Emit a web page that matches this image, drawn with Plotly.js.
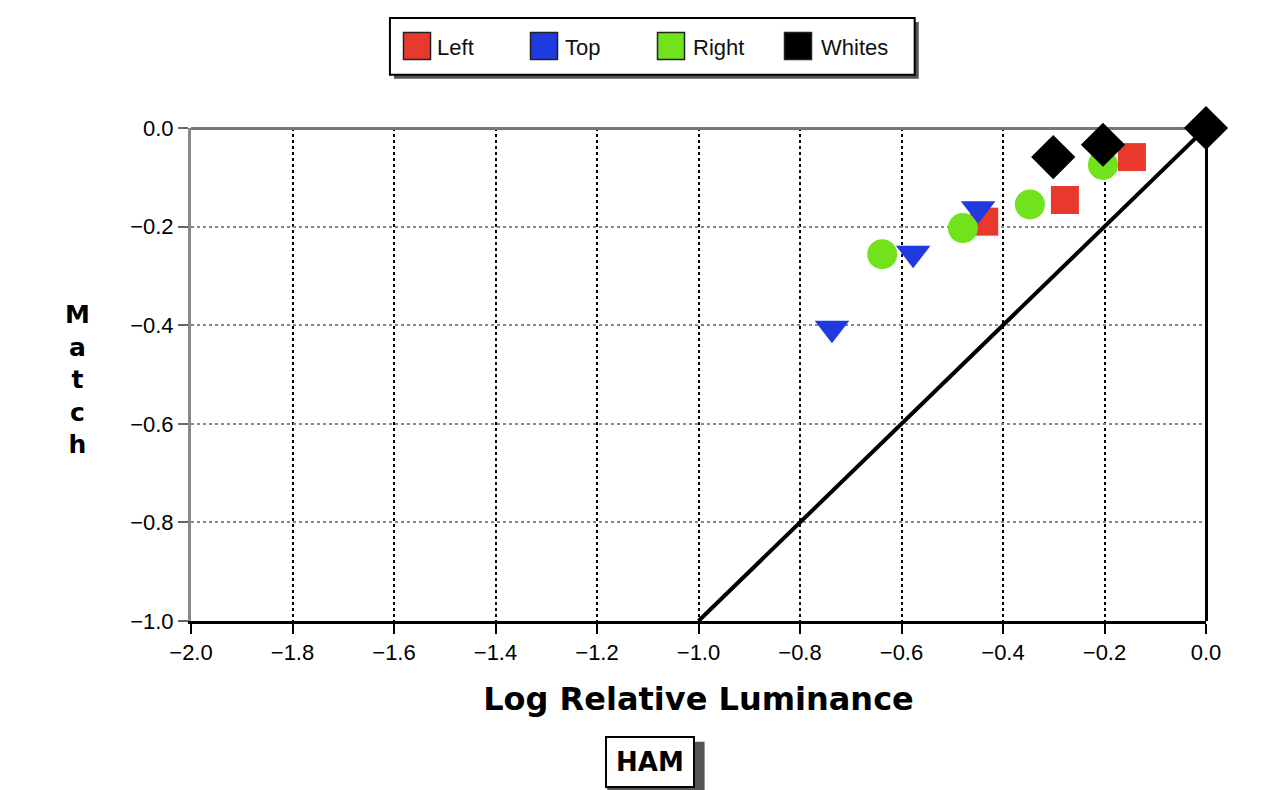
<!DOCTYPE html>
<html>
<head>
<meta charset="utf-8">
<script src="https://cdn.plot.ly/plotly-3.0.1.min.js"></script>
<style>html,body{margin:0;padding:0;background:#fff;}#chart{width:1287px;height:790px;}</style>
</head>
<body>
<div id="chart"></div>
<script>
// Data
const leftX = [-0.146, -0.278, -0.437];
const leftY = [-0.059, -0.146, -0.190];
const topX = [-0.449, -0.577, -0.737];
const topY = [-0.164, -0.254, -0.406];
const rightX = [-0.203, -0.347, -0.479, -0.638];
const rightY = [-0.075, -0.155, -0.203, -0.256];
const whitesX = [-0.301, -0.203, 0.0];
const whitesY = [-0.059, -0.034, 0.0];
const lineX = [-1.0, 0.0];
const lineY = [-1.0, 0.0];
const seriesNames = ['Left', 'Top', 'Right', 'Whites'];
const seriesColors = ['#e8392c', '#1f3be0', '#72e21c', '#000000'];
const xTicks = [-2.0, -1.8, -1.6, -1.4, -1.2, -1.0, -0.8, -0.6, -0.4, -0.2, 0.0];
const yTicks = [0.0, -0.2, -0.4, -0.6, -0.8, -1.0];

const F = 'Liberation Sans, Arial, sans-serif';
const FB = 'DejaVu Sans, Verdana, sans-serif';

const traces = [
  {x: lineX, y: lineY, mode: 'lines', line: {color: '#000', width: 4}, showlegend: false, hoverinfo: 'skip', cliponaxis: false},
  {x: leftX, y: leftY, mode: 'markers', marker: {symbol: 'square', size: 28, color: seriesColors[0]}, showlegend: false, cliponaxis: false},
  {x: rightX, y: rightY, mode: 'markers', marker: {symbol: 'circle', size: 30, color: seriesColors[2]}, showlegend: false, cliponaxis: false},
  {x: topX, y: topY, mode: 'markers', marker: {symbol: 'triangle-down', size: 30, color: seriesColors[1]}, showlegend: false, cliponaxis: false},
  {x: whitesX, y: whitesY, mode: 'markers', marker: {symbol: 'diamond', size: 34, color: seriesColors[3]}, showlegend: false, cliponaxis: false}
];
// legend-only entries (square swatches)
seriesNames.forEach((n, i) => {
  traces.push({x: [null], y: [null], mode: 'markers', name: n,
    marker: {symbol: 'square', size: 24, color: seriesColors[i]}, showlegend: true});
});

// enlarged legend swatches drawn behind the legend's own symbols
const swatchShapes = seriesColors.map((c, i) => {
  const cx = 417 + i * 127, cy = 46, h = 13.5;
  return {type: 'rect', xref: 'paper', yref: 'paper',
    x0: (cx - h - 191) / 1015, x1: (cx + h - 191) / 1015,
    y0: (621 - (cy + h)) / 493, y1: (621 - (cy - h)) / 493,
    fillcolor: c, line: {color: '#222', width: 1.5}, layer: 'above'};
});

const layout = {
  width: 1287, height: 790,
  paper_bgcolor: '#fff', plot_bgcolor: '#fff',
  margin: {l: 191, r: 81, t: 128, b: 169},
  font: {family: F, size: 20, color: '#000'},
  showlegend: true,
  legend: {orientation: 'h', x: 0.203, xanchor: 'left', y: 1.166, yanchor: 'middle',
    bgcolor: 'rgba(0,0,0,0)', borderwidth: 0,
    font: {family: F, size: 22, color: '#111'}, itemwidth: 30,
    entrywidth: 83, entrywidthmode: 'pixels'},
  xaxis: {
    range: [-2, 0], tickvals: xTicks, tickformat: '.1f',
    showgrid: true, gridcolor: '#000', griddash: 'dot', gridwidth: 2,
    zeroline: true, zerolinecolor: '#000', zerolinewidth: 3,
    showline: true, linecolor: '#000', linewidth: 3,
    ticks: 'outside', ticklen: 10, tickwidth: 2, tickcolor: '#000',
    tickfont: {family: F, size: 22, color: '#000'},
    title: {text: '<b>Log Relative Luminance</b>', font: {family: FB, size: 32, color: '#000'}, standoff: 24},
    fixedrange: true
  },
  yaxis: {
    range: [-1, 0], tickvals: yTicks, tickformat: '.1f',
    showgrid: true, gridcolor: '#888', griddash: 'dot', gridwidth: 2,
    zeroline: true, zerolinecolor: '#777', zerolinewidth: 3,
    showline: true, linecolor: '#888', linewidth: 3,
    ticks: 'outside', ticklen: 10, tickwidth: 2, tickcolor: '#666',
    tickfont: {family: F, size: 22, color: '#000'},
    fixedrange: true
  },
  annotations: [
    {text: '<b>M<br>a<br>t<br>c<br>h</b>', xref: 'paper', yref: 'paper', x: -0.112, y: 0.49, xanchor: 'center', yanchor: 'middle',
      showarrow: false, font: {family: FB, size: 25, color: '#000'}},
    {text: '<b>HAM</b>', xref: 'paper', yref: 'paper', x: 0.452, y: -0.285, xanchor: 'center', yanchor: 'middle',
      showarrow: false, font: {family: FB, size: 26, color: '#000'}, bordercolor: '#000', borderwidth: 2, borderpad: 9, bgcolor: '#fff'}
  ],
  shapes: [
    // legend box shadow and frame
    {type: 'rect', xref: 'paper', yref: 'paper', x0: 0.2, x1: 0.717, y0: 1.100, y1: 1.215, fillcolor: '#555', line: {width: 0}, layer: 'above'},
    {type: 'rect', xref: 'paper', yref: 'paper', x0: 0.196, x1: 0.713, y0: 1.108, y1: 1.223, fillcolor: '#fff', line: {color: '#000', width: 2}, layer: 'above'},
    ...swatchShapes,
    // HAM box shadow
    {type: 'rect', xref: 'paper', yref: 'paper', x0: 0.410, x1: 0.506, y0: -0.345, y1: -0.245, fillcolor: '#555', line: {width: 0}, layer: 'below'}
  ]
};

Plotly.newPlot('chart', traces, layout, {displayModeBar: false, staticPlot: true});
</script>
</body>
</html>
